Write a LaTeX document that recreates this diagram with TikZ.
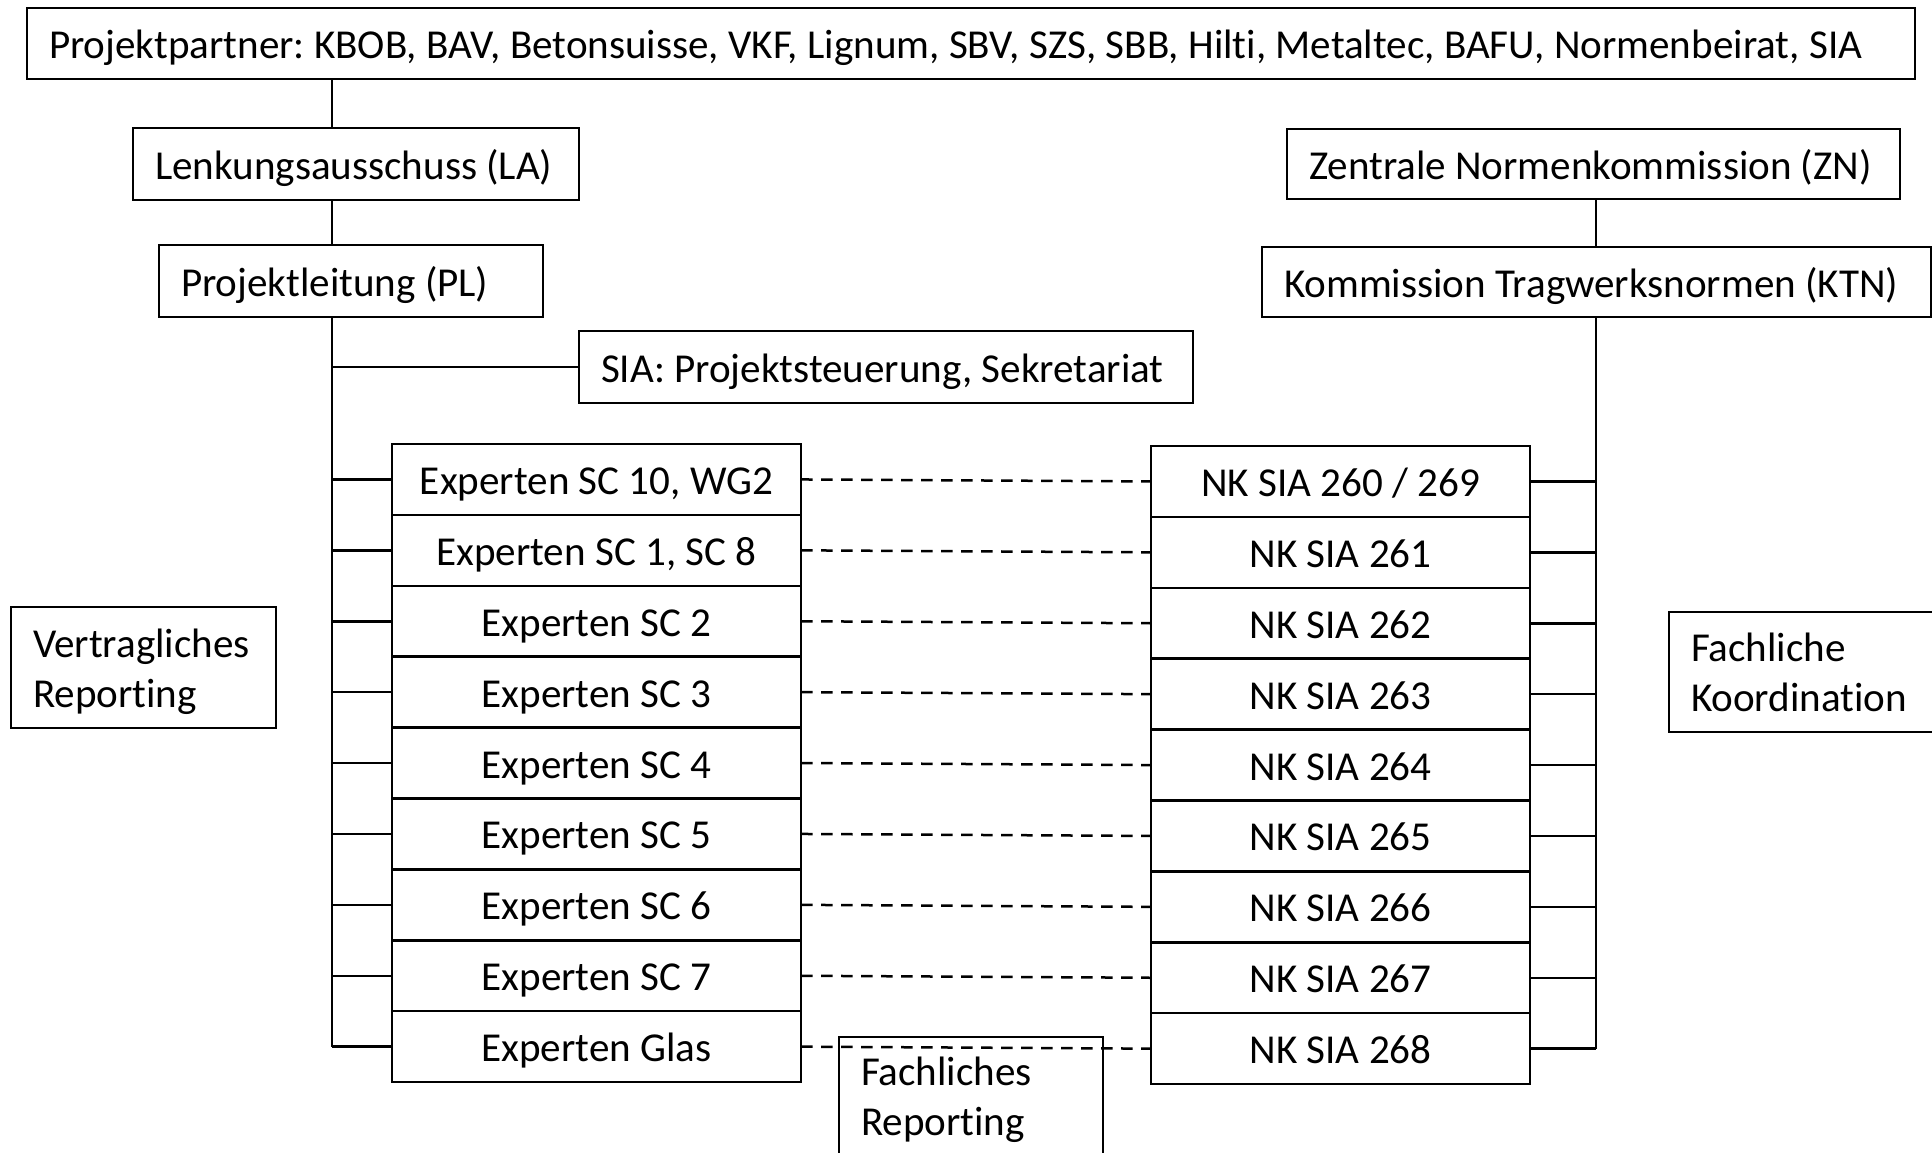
\documentclass[tikz,border=0pt]{standalone}
\usepackage{fontspec}
\setmainfont{Carlito}[Ligatures=NoCommon]
\frenchspacing
\begin{document}
\begin{tikzpicture}[x=1pt,y=-1pt,
  every node/.style={font=\fontsize{41.1}{50}\selectfont\frenchspacing},
  boxbase/.style={draw, line width=2.5pt, inner sep=0pt, outer sep=0pt, anchor=north west},
  lbox/.style={boxbase, inner xsep=22pt, align=flush left},
  cbox/.style={boxbase, align=center, text height=36pt, text depth=6pt},
  one/.style={text height=36pt, text depth=6pt},
  conn/.style={line width=2.5pt},
  dline/.style={line width=2.5pt, dash pattern=on 11.5pt off 8.5pt}]
\fill[white] (0,0) rectangle (1932,1153);
\useasboundingbox (0,0) rectangle (1932,1153);
\clip (0,0) rectangle (1932,1153);

% top and left hierarchy
\node[lbox, one, minimum width=1888pt, minimum height=71pt, text width=1844pt] (top) at (27,8)
  {Projektpartner: KBOB, BAV, Betonsuisse, VKF, Lignum, SBV, SZS, SBB, Hilti, Metaltec, BAFU, Normenbeirat, SIA};
\node[lbox, one, minimum width=446pt, minimum height=72pt, text width=402pt] (LA) at (133,128) {Lenkungsausschuss (LA)};
\node[lbox, one, minimum width=384pt, minimum height=72pt, text width=340pt] (PL) at (159,245) {Projektleitung (PL)};
\node[lbox, one, minimum width=614pt, minimum height=72pt, text width=570pt] (SIA) at (579,331) {SIA: Projektsteuerung, Sekretariat};

% right hierarchy
\node[lbox, one, minimum width=613pt, minimum height=70pt, text width=569pt] (ZN) at (1287,129) {Zentrale Normenkommission (ZN)};
\node[lbox, one, minimum width=669pt, minimum height=70pt, text width=625pt] (KTN) at (1262,247) {Kommission Tragwerksnormen (KTN)};

% side labels
\node[lbox, minimum width=265pt, minimum height=121pt, text width=221pt] (VR) at (11,607) {\rule{0pt}{37pt}Vertragliches\\Reporting};
\node[lbox, minimum width=300pt, minimum height=120pt, text width=256pt] (FK) at (1669,612) {Fachliche\\Koordination};
\node[lbox, minimum width=264pt, minimum height=126pt, text width=220pt] (FR) at (839,1037) {Fachliches\\Reporting};

% bus coordinates
\coordinate (busL) at (332,317);
\coordinate (busR) at (1596,317);

% expert and NK rows
\foreach \t [count=\i] in {{Experten SC 10, WG2},{Experten SC 1, SC 8},{Experten SC 2},{Experten SC 3},{Experten SC 4},{Experten SC 5},{Experten SC 6},{Experten SC 7},{Experten Glas}} {
  \pgfmathsetmacro{\yy}{444+(\i-1)*70.9}
  \node[cbox, minimum width=409pt, minimum height=70.9pt] (e\i) at (392,\yy) {\t};
}
\foreach \t [count=\i] in {{NK SIA 260 / 269},{NK SIA 261},{NK SIA 262},{NK SIA 263},{NK SIA 264},{NK SIA 265},{NK SIA 266},{NK SIA 267},{NK SIA 268}} {
  \pgfmathsetmacro{\yy}{446+(\i-1)*70.9}
  \node[cbox, minimum width=379pt, minimum height=70.9pt] (n\i) at (1151,\yy) {\t};
}

% connectors
\draw[conn] (top.south -| busL) -- (LA.north -| busL);
\draw[conn] (LA.south -| busL) -- (PL.north -| busL);
\draw[conn] (PL.south -| busL) -- (busL |- e9.west);
\draw[conn] (busL |- SIA.west) -- (SIA.west);
\draw[conn] (ZN.south -| busR) -- (KTN.north -| busR);
\draw[conn] (KTN.south -| busR) -- (busR |- n9.east);
\foreach \i in {1,...,9} {
  \draw[conn] (busL |- e\i.west) -- (e\i.west);
  \draw[conn] (n\i.east) -- (busR |- n\i.east);
  \draw[dline] (e\i.east) -- (n\i.west);
}
\end{tikzpicture}
\end{document}
